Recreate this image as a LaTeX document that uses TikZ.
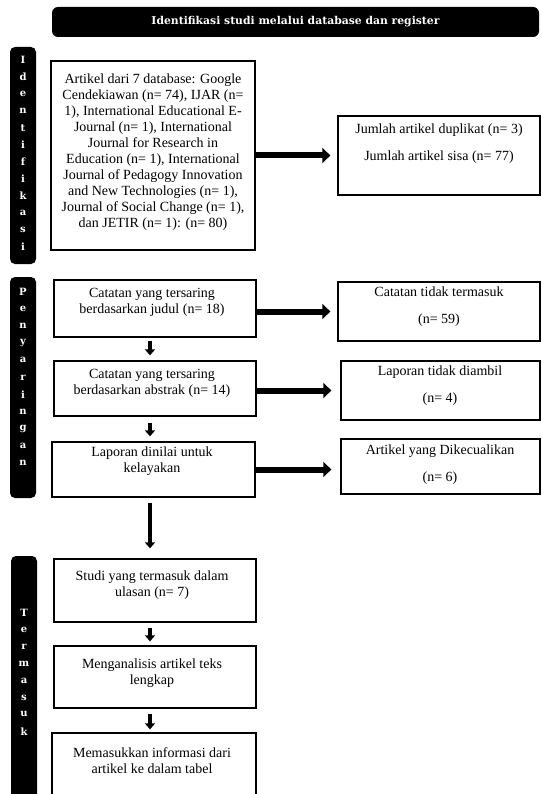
\documentclass[tikz,border=0pt]{standalone}
\usepackage{fontspec}
\setmainfont{Liberation Serif}
\newfontfamily\heavyfont{DejaVu Serif}
\usetikzlibrary{arrows.meta}
\begin{document}
\begin{tikzpicture}[x=1pt,y=-1pt,
  box/.style={draw=black, line width=1.3pt, fill=white, inner sep=0pt},
  txt/.style={align=center, inner sep=0pt, text=black, font=\fontsize{14}{16}\selectfont},
  bar/.style={fill=black, rounded corners=5pt, inner sep=0pt},
  letter/.style={text=white, inner sep=0pt, font=\heavyfont\bfseries\fontsize{10}{11}\selectfont},
  harrow/.style={line width=6pt, -{Triangle[length=8pt,width=15pt]}},
  varrow/.style={line width=3.5pt, -{Triangle[length=6pt,width=10pt]}},
]
\useasboundingbox (0,0) rectangle (541,794);

% banner
\node[fill=black, rounded corners=6pt, minimum width=487pt, minimum height=30pt,
      text=white, font=\heavyfont\bfseries\fontsize{10.8}{12}\selectfont] (banner) at (295.5,22)
      {Identifikasi studi melalui database dan register};

% side bars
\node[bar, minimum width=26pt, minimum height=217pt] (barI) at (23,155.5) {};
\node[bar, minimum width=26pt, minimum height=221pt] (barP) at (23,387.5) {};
\node[bar, minimum width=26pt, minimum height=254pt] (barT) at (24,683) {};

\foreach \l [count=\k] in {I,d,e,n,t,i,f,i,k,a,s,i}
  \node[letter] (LI\k) at (23,{60+17*(\k-1)}) {\l};
\foreach \l [count=\k] in {P,e,n,y,a,r,i,n,g,a,n}
  \node[letter] (LP\k) at (23,{292+17.1*(\k-1)}) {\l};
\foreach \l [count=\k] in {T,e,r,m,a,s,u,k}
  \node[letter] (LT\k) at (24,{613+16.9*(\k-1)}) {\l};

% boxes
\node[box, minimum width=204pt, minimum height=189pt] (A) at (153,155.5) {};
\node[box, minimum width=202pt, minimum height=79pt] (B) at (439,155.5) {};
\node[box, minimum width=202pt, minimum height=57pt] (C1) at (155,308.5) {};
\node[box, minimum width=202pt, minimum height=59pt] (R1) at (439,311.5) {};
\node[box, minimum width=202pt, minimum height=55pt] (C2) at (155,388.5) {};
\node[box, minimum width=199pt, minimum height=59pt] (R2) at (440.5,390.5) {};
\node[box, minimum width=203pt, minimum height=55pt] (C3) at (153.5,469.5) {};
\node[box, minimum width=199pt, minimum height=55pt] (R3) at (440.5,466.5) {};
\node[box, minimum width=202pt, minimum height=63pt] (T1) at (155,590.5) {};
\node[box, minimum width=202pt, minimum height=62pt] (T2) at (155,677) {};
\node[box, minimum width=204pt, minimum height=72pt] (T3) at (154,769) {};

% texts
\node[txt] (At) at (153,152.5) {Artikel dari 7 database: Google\\Cendekiawan (n= 74), IJAR (n=\\1), International Educational E-\\Journal (n= 1), International\\Journal for Research in\\Education (n= 1), International\\Journal of Pedagogy Innovation\\and New Technologies (n= 1),\\Journal of Social Change (n= 1),\\dan JETIR (n= 1): (n= 80)};
\node[txt] (Bt) at (439,144) {Jumlah artikel duplikat (n= 3)\\[11pt]Jumlah artikel sisa (n= 77)};
\node[txt] (C1t) at (152,302.5) {Catatan yang tersaring\\berdasarkan judul (n= 18)};
\node[txt] (R1t) at (439,306.5) {Catatan tidak termasuk\\[11pt](n= 59)};
\node[txt] (C2t) at (152,383.5) {Catatan yang tersaring\\berdasarkan abstrak (n= 14)};
\node[txt] (R2t) at (440,386) {Laporan tidak diambil\\[11pt](n= 4)};
\node[txt] (C3t) at (152,461.5) {Laporan dinilai untuk\\kelayakan};
\node[txt] (R3t) at (440,464.5) {Artikel yang Dikecualikan\\[11pt](n= 6)};
\node[txt] (T1t) at (152,585.5) {Studi yang termasuk dalam\\ulasan (n= 7)};
\node[txt] (T2t) at (152,673) {Menganalisis artikel teks\\lengkap};
\node[txt] (T3t) at (152,760.5) {Memasukkan informasi dari\\artikel ke dalam tabel};

% horizontal arrows
\draw[harrow, shorten >=7pt] (A.east) -- (B.west);
\draw[harrow, shorten >=7pt] (C1.east |- R1.west) -- (R1.west);
\draw[harrow, shorten >=9pt] (C2.east |- R2.west) -- (R2.west);
\draw[harrow, shorten >=9pt] (C3.east) -- (C3.east -| R3.west);

% vertical arrows
\draw[varrow, shorten <=3pt, shorten >=5pt] ([xshift=-5pt]C1.south) -- ([xshift=-5pt]C2.north);
\draw[varrow, shorten <=6pt, shorten >=5pt] ([xshift=-5pt]C2.south) -- ([xshift=-3.5pt]C3.north);
\draw[varrow, shorten <=5pt, shorten >=10pt] ([xshift=-3.5pt]C3.south) -- ([xshift=-5pt]T1.north);
\draw[varrow, shorten <=5pt, shorten >=4pt] ([xshift=-5pt]T1.south) -- ([xshift=-5pt]T2.north);
\draw[varrow, shorten <=5pt, shorten >=3pt] ([xshift=-5pt]T2.south) -- ([xshift=-4pt]T3.north);
\end{tikzpicture}
\end{document}
